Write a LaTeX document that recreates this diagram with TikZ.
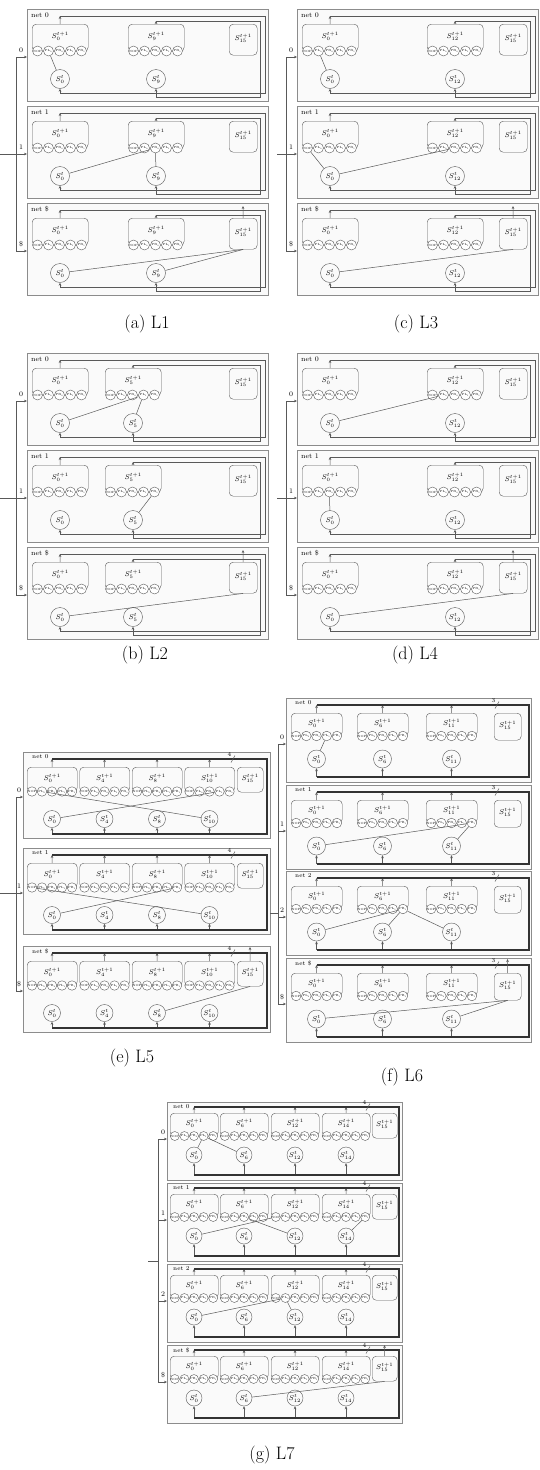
\documentclass[tikz,border=0pt]{standalone}
\usepackage{tikz}
\usetikzlibrary{arrows.meta}

% labels of the five little ports under every next-state box
\newcommand{\portlist}{1/NOP,2/PL\textsubscript{0},3/PR\textsubscript{0},4/PL\textsubscript{1},5/PR\textsubscript{1}}

% one net of the panels L1--L4: two state boxes, S15 box, two feedback loops
\newcommand{\netL}[5]{%
  \begin{scope}[shift={#2}]
    \node[netbox,minimum width=241pt,minimum height=92pt] (#1) at (0,0) {};
    \node[netlbl] (#1n) at (4,6) {net #3};
    \node[inlbl] (#1k) at (-6,41) {#3};
    \coordinate (#1i) at (0,48);
    \node[nxt,minimum width=56pt,minimum height=27pt] (#1b1) at (5,15) {$S_{0}^{t+1}$};
    \node[nxt,minimum width=56pt,minimum height=27pt] (#1b2) at (#4,15) {$S_{#5}^{t+1}$};
    \node[nxt,minimum width=28pt,minimum height=31pt] (#1f) at (202,15) {$S_{15}^{t+1}$};
    \foreach \k/\lb in \portlist {
      \node[port,minimum size=10pt] (#1b1-\k) at (11*\k-0.5,42) {\lb};
      \node[port,minimum size=10pt] (#1b2-\k) at (#4+11*\k-5.5,42) {\lb};
    }
    \node[cur,minimum size=19pt] (#1s1) at (33,70) {$S_{0}^{t}$};
    \node[cur,minimum size=19pt] (#1s2) at (#4+28,70) {$S_{#5}^{t}$};
    \coordinate (#1t1) at (33,7);
    \coordinate (#1r1) at (238,84);
    \coordinate (#1t2) at (#4+28,12);
    \coordinate (#1r2) at (233,88);
    \coordinate (#1x) at (216,3);
    \draw[arr] (#1b1) -- (#1t1);
    \draw[arr] (#1t1) -| (#1r1) -| (#1s1);
    \draw[arr] (#1b2) -- (#1t2);
    \draw[arr] (#1t2) -| (#1r2) -| (#1s2);
  \end{scope}}

% three nets stacked, with the input fork on the left
\newcommand{\panelL}[6]{%
  \netL{#10}{(#2,#3)}{0}{#4}{#5}
  \netL{#11}{(#2,#3+97)}{1}{#4}{#5}
  \netL{#12}{(#2,#3+194)}{\$}{#4}{#5}
  \coordinate (#1v) at (#2-11,0);
  \coordinate (#1w) at (#6,0);
  \draw[wire] (#10i -| #1v) -- (#12i -| #1v);
  \draw[arr] (#10i -| #1v) -- (#10i);
  \draw[arr] (#12i -| #1v) -- (#12i);
  \draw[arr] (#11i -| #1w) -- (#11i);
  \draw[arr] (#12f) -- (#12x);
}

% one net of the panels L5--L7: boxes on a feedback bus (geometry in \pz..)
\newcommand{\netB}[4]{%
  \begin{scope}[shift={#2}]
    \node[netbox,minimum width=\pzW*1pt,minimum height=\pzH*1pt] (#1) at (0,0) {};
    \node[netlbl,font=\fontsize{6}{7}\selectfont] (#1n) at (\pzLx,\pzLy) {net #3};
    \node[inlbl] (#1k) at (-4,\pzIy-7) {#3};
    \coordinate (#1i) at (0,\pzIy);
    \node[nxt,minimum width=\pzFw*1pt,minimum height=\pzFh*1pt] (#1f) at (\pzFx,\pzTop) {$S_{15}^{t+1}$};
    \coordinate (#1x) at (\pzFx+\pzFw/2,\pzXy);
    \coordinate (#1r) at (\pzUr,\pzUb);
    \foreach \bx/\bi [count=\n] in {#4} {
      \node[nxt,minimum width=\pzBw*1pt,minimum height=(\pzCy-\pzTop)*1pt] (#1b\n) at (\bx,\pzTop) {$S_{\bi}^{t+1}$};
      \foreach \k/\lb in \portlist
        \node[port,minimum size=\pzPd*1pt] (#1b\n-\k) at (\bx+\k*\pzPp-\pzPp/2,\pzCy) {\lb};
      \node[cur,minimum size=\pzSd*1pt] (#1s\n) at (\bx+\pzBw/2,\pzSy) {$S_{\bi}^{t}$};
      \coordinate (#1t\n) at (\bx+\pzBw/2,\pzUt);
      \coordinate (#1u\n) at (\bx+\pzBw/2,\pzUb);
      \draw[arr] (#1b\n) -- (#1t\n);
      \draw[arr] (#1u\n) -- (#1s\n);
    }
    \draw[bus] (#1t1) -| (#1r) -- (#1u1);
    \draw[wire] (\pzMx-2,\pzUt+3.5) -- (\pzMx+2,\pzUt-3.5);
    \node[inlbl,font=\fontsize{6}{7}\selectfont] (#1m) at (\pzMx-3.5,\pzUt-4.5) {\pzMn};
  \end{scope}}

\begin{document}
\begin{tikzpicture}[x=1pt,y=-1pt,
  netbox/.style={draw=black!45,fill=black!2,anchor=north west,inner sep=0pt},
  nxt/.style={draw=black!65,fill=black!2,rounded corners=4pt,anchor=north west,inner sep=0pt,text depth=5pt,font=\fontsize{7}{8}\selectfont},
  port/.style={circle,draw=black!65,fill=white,inner sep=0pt,font=\fontsize{3}{3.5}\selectfont},
  cur/.style={circle,draw=black!65,fill=black!2,inner sep=0pt,font=\fontsize{7}{8}\selectfont},
  netlbl/.style={anchor=west,inner sep=0pt,font=\fontsize{7}{8}\selectfont},
  inlbl/.style={inner sep=0pt,font=\fontsize{7}{8}\selectfont},
  arr/.style={-{Stealth[length=3pt,width=2.6pt]},draw=black!65,line width=0.5pt},
  wire/.style={draw=black!65,line width=0.5pt},
  bus/.style={draw=black!80,line width=1.3pt},
  subcap/.style={font=\fontsize{18}{20}\selectfont}]
\useasboundingbox (0,0) rectangle (540,1470);

% (a) L1
\panelL{a}{27}{9}{101}{9}{0}
\draw[wire] (a0b1-2) -- (a0s1);
\draw[wire] (a1b2-3) -- (a1s1);
\draw[wire] (a1b2-3) -- (a1s2);
\draw[wire] (a2f.south) -- (a2s1);
\draw[wire] (a2f.south) -- (a2s2);
\node[subcap] (capa) at (147,324) {(a) L1};

% (c) L3
\panelL{c}{297}{9}{130}{12}{277}
\draw[wire] (c0b1-2) -- (c0s1);
\draw[wire] (c1b1-1) -- (c1s1);
\draw[wire] (c1b2-3) -- (c1s1);
\draw[wire] (c2f.south) -- (c2s1);
\node[subcap] (capc) at (416,324) {(c) L3};

% (b) L2
\panelL{b}{27}{353}{78}{5}{0}
\draw[wire] (b0b2-4) -- (b0s1);
\draw[wire] (b0b2-4) -- (b0s2);
\draw[wire] (b1b2-5) -- (b1s2);
\draw[wire] (b2f.south) -- (b2s1);
\node[subcap] (capb) at (145,655) {(b) L2};

% (d) L4
\panelL{d}{297}{353}{130}{12}{277}
\draw[wire] (d0b2-2) -- (d0s1);
\draw[wire] (d1b1-3) -- (d1s1);
\draw[wire] (d2f.south) -- (d2s1);
\node[subcap] (capd) at (415,655) {(d) L4};

% (e) L5
\def\pzW{247}\def\pzH{86}\def\pzTop{15}\def\pzCy{39.5}\def\pzBw{50}\def\pzPp{10}\def\pzPd{9.5}
\def\pzSy{67}\def\pzSd{17}\def\pzUt{7}\def\pzUr{244}\def\pzUb{82}
\def\pzFx{214}\def\pzFw{26}\def\pzFh{25}\def\pzMx{210}\def\pzMn{4}
\def\pzLx{9}\def\pzLy{5}\def\pzIy{45}\def\pzXy{1}
\netB{e0}{(23,752)}{0}{4/0,56.5/4,109/8,161.5/10}
\netB{e1}{(23,848)}{1}{4/0,56.5/4,109/8,161.5/10}
\netB{e2}{(23,946)}{\$}{4/0,56.5/4,109/8,161.5/10}
\coordinate (ev) at (16,0);
\coordinate (ew) at (0,0);
\draw[wire] (e0i -| ev) -- (e2i -| ev);
\draw[arr] (e0i -| ev) -- (e0i);
\draw[arr] (e2i -| ev) -- (e2i);
\draw[arr] (e1i -| ew) -- (e1i);
\draw[arr] (e2f) -- (e2x);
\draw[wire] (e0b1-2) -- (e0s4);
\draw[wire] (e0b4-4) -- (e0s1);
\draw[wire] (e1b1-1) -- (e1s4);
\draw[wire] (e1b3-5) -- (e1s1);
\draw[wire] (e2f.south) -- (e2s3);
\node[subcap] (cape) at (132,1058) {(e) L5};

% (f) L6
\def\pzW{245}\def\pzH{84}\def\pzTop{15}\def\pzCy{38}\def\pzBw{51}\def\pzPp{10.2}\def\pzPd{9.6}
\def\pzSy{61}\def\pzSd{18}\def\pzUt{7}\def\pzUr{243}\def\pzUb{79}
\def\pzFx{208}\def\pzFw{27}\def\pzFh{27}\def\pzMx{211}\def\pzMn{3}
\def\pzLx{9}\def\pzLy{5}\def\pzIy{46}\def\pzXy{1}
\netB{f0}{(286,698)}{0}{5/0,71/6,140/11}
\netB{f1}{(286,785)}{1}{5/0,71/6,140/11}
\netB{f2}{(286,871)}{2}{5/0,71/6,140/11}
\netB{f3}{(286,958)}{\$}{5/0,71/6,140/11}
\coordinate (fv) at (278,0);
\coordinate (fw) at (270,913);
\draw[wire] (f0i -| fv) -- (f3i -| fv);
\draw[wire] (fw) -- (fw -| fv);
\foreach \j in {0,...,3}
  \draw[arr] (f\j i -| fv) -- (f\j i);
\draw[arr] (f3f) -- (f3x);
\draw[wire] (f0b1-4) -- (f0s1);
\draw[wire] (f1b3-5) -- (f1s1);
\draw[wire] (f1b3-5) -- (f1s3);
\draw[wire] (f2b2-5) -- (f2s1);
\draw[wire] (f2b2-5) -- (f2s2);
\draw[wire] (f2b2-5) -- (f2s3);
\draw[wire] (f3f.south) -- (f3s1);
\draw[wire] (f3f.south) -- (f3s3);
\node[subcap] (capf) at (402,1077) {(f) L6};

% (g) L7
\def\pzW{235}\def\pzH{78}\def\pzTop{11}\def\pzCy{34}\def\pzBw{48}\def\pzPp{9.6}\def\pzPd{9}
\def\pzSy{53}\def\pzSd{16}\def\pzUt{5}\def\pzUr{232}\def\pzUb{73}
\def\pzFx{205}\def\pzFw{25}\def\pzFh{25}\def\pzMx{201}\def\pzMn{4}
\def\pzLx{6}\def\pzLy{5}\def\pzIy{37}\def\pzXy{0}
\netB{g0}{(167,1102)}{0}{3/0,53/6,104/12,155/14}
\netB{g1}{(167,1183)}{1}{3/0,53/6,104/12,155/14}
\netB{g2}{(167,1264)}{2}{3/0,53/6,104/12,155/14}
\netB{g3}{(167,1345)}{\$}{3/0,53/6,104/12,155/14}
\coordinate (gv) at (158,0);
\coordinate (gw) at (148,1261);
\draw[wire] (g0i -| gv) -- (g3i -| gv);
\draw[wire] (gw) -- (gw -| gv);
\foreach \j in {0,...,3}
  \draw[arr] (g\j i -| gv) -- (g\j i);
\draw[arr] (g3f) -- (g3x);
\draw[wire] (g0b1-4) -- (g0s1);
\draw[wire] (g0b1-4) -- (g0s2);
\draw[wire] (g1b3-1) -- (g1s1);
\draw[wire] (g1b2-3) -- (g1s3);
\draw[wire] (g1b4-5) -- (g1s4);
\draw[wire] (g2b3-2) -- (g2s1);
\draw[wire] (g2b3-2) -- (g2s3);
\draw[wire] (g3f.south) -- (g3s2);
\node[subcap] (capg) at (272,1455) {(g) L7};
\end{tikzpicture}
\end{document}
